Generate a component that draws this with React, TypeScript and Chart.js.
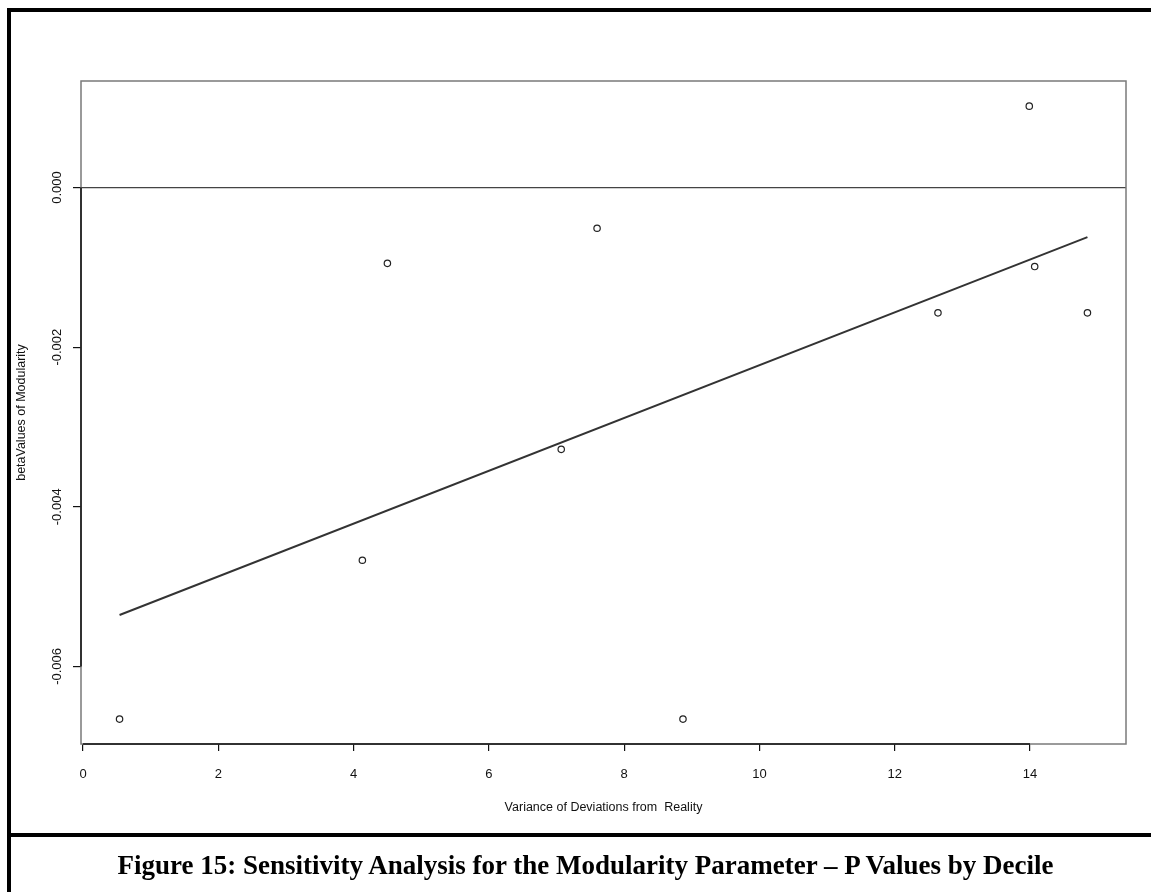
import React, { useEffect, useRef } from "react";
import { Chart, registerables } from "chart.js";

Chart.register(...registerables);

const varianceX = [0.54, 4.13, 4.5, 7.07, 7.6, 8.87, 12.64, 13.99, 14.07, 14.85];
const betaY = [-0.00666, -0.00467, -0.00095, -0.00328, -0.00051, -0.00666, -0.00157, 0.00102, -0.00099, -0.00157];
const trendX = [0.54, 14.85];
const trendY = [-0.005356, -0.000622];
const xTicks = [0, 2, 4, 6, 8, 10, 12, 14];
const yTicks = [-0.006, -0.004, -0.002, 0];
const yTickLabels = ["-0.006", "-0.004", "-0.002", "0.000"];
const xTitle = "Variance of Deviations from  Reality";
const yTitle = "betaValues of Modularity";
const caption = "Figure 15: Sensitivity Analysis for the Modularity Parameter \u2013 P Values by Decile";

const FONT = "'Liberation Sans', Arial, sans-serif";

const decorPlugin = {
  id: "decor",
  afterDraw(chart: any) {
    const ctx = chart.ctx;
    const { left, right, top, bottom } = chart.chartArea;
    const xs = chart.scales.x;
    const ys = chart.scales.y;
    ctx.save();
    // zero line
    const y0 = ys.getPixelForValue(0);
    ctx.strokeStyle = "#444";
    ctx.lineWidth = 1.3;
    ctx.beginPath();
    ctx.moveTo(left, y0);
    ctx.lineTo(right, y0);
    ctx.stroke();
    // box
    ctx.strokeStyle = "#7a7a7a";
    ctx.lineWidth = 1.5;
    ctx.strokeRect(left, top, right - left, bottom - top);
    // axis lines
    ctx.strokeStyle = "#111";
    ctx.lineWidth = 1.5;
    ctx.beginPath();
    ctx.moveTo(xs.getPixelForValue(xTicks[0]), bottom);
    ctx.lineTo(xs.getPixelForValue(xTicks[xTicks.length - 1]), bottom);
    ctx.moveTo(left, ys.getPixelForValue(yTicks[0]));
    ctx.lineTo(left, ys.getPixelForValue(yTicks[yTicks.length - 1]));
    ctx.stroke();
    // y tick labels
    ctx.fillStyle = "#111";
    ctx.font = `13px ${FONT}`;
    ctx.textAlign = "center";
    ctx.textBaseline = "middle";
    yTicks.forEach((v, i) => {
      const py = ys.getPixelForValue(v);
      ctx.save();
      ctx.translate(57, py);
      ctx.rotate(-Math.PI / 2);
      ctx.fillText(yTickLabels[i], 0, 0);
      ctx.restore();
    });
    // titles
    ctx.font = `12.5px ${FONT}`;
    ctx.fillText(xTitle, (left + right) / 2, 808);
    ctx.save();
    ctx.translate(22, (top + bottom) / 2);
    ctx.rotate(-Math.PI / 2);
    ctx.fillText(yTitle, 0, 0);
    ctx.restore();
    ctx.restore();
  },
};

function ChartCanvas() {
  const ref = useRef<HTMLCanvasElement | null>(null);
  useEffect(() => {
    if (!ref.current) return;
    const chart = new Chart(ref.current, {
      type: "scatter",
      data: {
        datasets: [
          {
            label: "points",
            data: varianceX.map((x, i) => ({ x, y: betaY[i] })),
            pointRadius: 3.2,
            pointBorderWidth: 1.2,
            borderColor: "#222",
            backgroundColor: "rgba(0,0,0,0)",
            showLine: false,
          },
          {
            label: "trend",
            type: "line",
            data: trendX.map((x, i) => ({ x, y: trendY[i] })),
            borderColor: "#333",
            borderWidth: 2,
            pointRadius: 0,
            showLine: true,
            fill: false,
          },
        ],
      },
      options: {
        responsive: false,
        animation: false,
        layout: { padding: { left: 0, top: 81, right: 25, bottom: 0 } },
        plugins: { legend: { display: false }, tooltip: { enabled: false } },
        scales: {
          x: {
            type: "linear",
            min: -0.03,
            max: 15.42,
            afterBuildTicks: (s: any) => {
              s.ticks = xTicks.map((v) => ({ value: v }));
            },
            afterFit: (s: any) => {
              s.height = 89;
            },
            grid: { display: true, drawOnChartArea: false, drawTicks: true, tickLength: 7, color: "#111", lineWidth: 1.2 },
            border: { display: false },
            ticks: {
              color: "#111",
              font: { family: FONT, size: 13 },
              padding: 16,
              maxRotation: 0,
              minRotation: 0,
              callback: (v: any) => String(v),
            },
          },
          y: {
            type: "linear",
            min: -0.006972,
            max: 0.001335,
            afterBuildTicks: (s: any) => {
              s.ticks = yTicks.map((v) => ({ value: v }));
            },
            afterFit: (s: any) => {
              s.width = 81;
            },
            grid: { display: true, drawOnChartArea: false, drawTicks: true, tickLength: 8, color: "#111", lineWidth: 1.2 },
            border: { display: false },
            ticks: { display: false },
          },
        },
      },
      plugins: [decorPlugin],
    } as any);
    return () => chart.destroy();
  }, []);
  return (
    <canvas
      ref={ref}
      width={1151}
      height={833}
      style={{ position: "absolute", left: 0, top: 0, width: 1151, height: 833, display: "block" }}
    />
  );
}

export default function App() {
  return (
    <div style={{ position: "absolute", left: 0, top: 0, width: 1151, height: 892, overflow: "hidden", background: "#fff" }}>
      <ChartCanvas />
      <div
        style={{
          position: "absolute",
          left: 7,
          top: 8,
          width: 1160,
          height: 829,
          border: "4px solid #000",
          boxSizing: "border-box",
          pointerEvents: "none",
        }}
      />
      <div
        style={{
          position: "absolute",
          left: 7,
          top: 833,
          width: 1160,
          height: 100,
          borderLeft: "4px solid #000",
          borderRight: "4px solid #000",
          boxSizing: "border-box",
        }}
      />
      <div
        style={{
          position: "absolute",
          left: 11,
          top: 837,
          width: 1149,
          height: 56,
          display: "flex",
          alignItems: "center",
          justifyContent: "center",
          fontFamily: "'Liberation Serif', 'Times New Roman', serif",
          fontWeight: "bold",
          fontSize: 27,
          color: "#000",
          whiteSpace: "nowrap",
        }}
      >
        {caption}
      </div>
    </div>
  );
}
